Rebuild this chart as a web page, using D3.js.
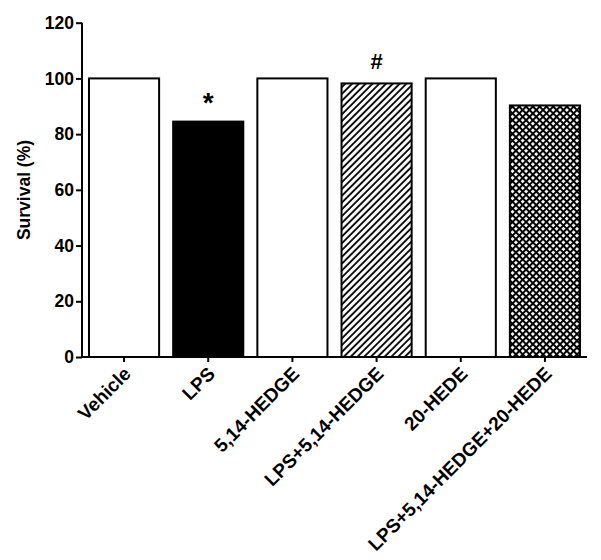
<!DOCTYPE html>
<html>
<head>
<meta charset="utf-8">
<script src="https://cdn.jsdelivr.net/npm/d3@7"></script>
<style>
  body { margin: 0; background: #fff; }
  text { font-family: "Liberation Sans", Arial, sans-serif; font-weight: bold; fill: #000; }
</style>
</head>
<body>
<script>
const groups = ['Vehicle', 'LPS', '5,14-HEDGE', 'LPS+5,14-HEDGE', '20-HEDE', 'LPS+5,14-HEDGE+20-HEDE'];
const survival = [100, 84.5, 100, 98.2, 100, 90.3];
const fills = ['white', 'black', 'white', 'hatch', 'white', 'cross'];
const marks = ['', '*', '', '#', '', ''];
const yTicks = [0, 20, 40, 60, 80, 100, 120];

const W = 601, H = 560;
const plotLeft = 82, plotRight = 587, plotTop = 22.7, plotBottom = 357;

const svg = d3.select('body').append('svg')
    .attr('width', W)
    .attr('height', H);

const defs = svg.append('defs');

// diagonal hatch
const hatch = defs.append('pattern')
    .attr('id', 'hatch')
    .attr('patternUnits', 'userSpaceOnUse')
    .attr('width', 4.8).attr('height', 4.8)
    .attr('patternTransform', 'rotate(45)');
hatch.append('rect').attr('width', 4.8).attr('height', 4.8).attr('fill', 'white');
hatch.append('line')
    .attr('x1', 1).attr('y1', 0).attr('x2', 1).attr('y2', 4.8)
    .attr('stroke', 'black').attr('stroke-width', 1.8);

// cross hatch
const cross = defs.append('pattern')
    .attr('id', 'cross')
    .attr('patternUnits', 'userSpaceOnUse')
    .attr('width', 4.8).attr('height', 4.8)
    .attr('patternTransform', 'rotate(45)');
cross.append('rect').attr('width', 4.8).attr('height', 4.8).attr('fill', 'white');
cross.append('line')
    .attr('x1', 1).attr('y1', 0).attr('x2', 1).attr('y2', 4.8)
    .attr('stroke', 'black').attr('stroke-width', 2);
cross.append('line')
    .attr('x1', 0).attr('y1', 1).attr('x2', 4.8).attr('y2', 1)
    .attr('stroke', 'black').attr('stroke-width', 2);

const x = d3.scaleBand()
    .domain(groups)
    .range([plotLeft, plotRight])
    .paddingInner(0.167)
    .paddingOuter(0.083);

const y = d3.scaleLinear()
    .domain([0, 120])
    .range([plotBottom, plotTop]);

// bars
svg.append('g')
  .selectAll('rect')
  .data(groups)
  .join('rect')
    .attr('x', d => x(d))
    .attr('y', (d, i) => y(survival[i]))
    .attr('width', x.bandwidth())
    .attr('height', (d, i) => y(0) - y(survival[i]))
    .attr('fill', (d, i) => fills[i] === 'hatch' || fills[i] === 'cross' ? 'url(#' + fills[i] + ')' : fills[i])
    .attr('stroke', 'black')
    .attr('stroke-width', 2);

// y axis
const yAxis = svg.append('g')
    .attr('transform', 'translate(' + plotLeft + ',0)')
    .call(d3.axisLeft(y).tickValues(yTicks).tickSize(6).tickPadding(2));
yAxis.select('.domain').attr('stroke-width', 2).attr('d', 'M0,' + plotTop + 'V' + plotBottom);
yAxis.selectAll('.tick line').attr('stroke-width', 2);
yAxis.selectAll('.tick text')
    .style('font-size', '17.5px')
    .style('font-family', '"Liberation Sans", Arial, sans-serif')
    .style('font-weight', 'bold');

// x axis
const xAxis = svg.append('g')
    .attr('transform', 'translate(0,' + plotBottom + ')')
    .call(d3.axisBottom(x).tickSize(5).tickSizeOuter(0));
xAxis.select('.domain').attr('stroke-width', 2).attr('d', 'M' + plotLeft + ',0H' + plotRight);
xAxis.selectAll('.tick line').attr('stroke-width', 2);
xAxis.selectAll('.tick text')
    .attr('x', 0).attr('y', 0).attr('dy', 0)
    .attr('text-anchor', 'end')
    .attr('transform', 'translate(8,18) rotate(-45)')
    .style('font-size', '19px')
    .style('font-family', '"Liberation Sans", Arial, sans-serif')
    .style('font-weight', 'bold');

// y label
svg.append('text')
    .attr('transform', 'translate(30,190) rotate(-90)')
    .attr('text-anchor', 'middle')
    .style('font-size', '17.5px')
    .text('Survival (%)');

// significance marks
svg.append('g')
  .selectAll('text')
  .data(groups)
  .join('text')
    .attr('x', d => x(d) + x.bandwidth() / 2)
    .attr('y', (d, i) => marks[i] === '*' ? y(survival[i]) - 10 : y(survival[i]) - 14)
    .attr('text-anchor', 'middle')
    .style('font-size', (d, i) => marks[i] === '*' ? '28px' : '22px')
    .text((d, i) => marks[i]);
</script>
</body>
</html>
